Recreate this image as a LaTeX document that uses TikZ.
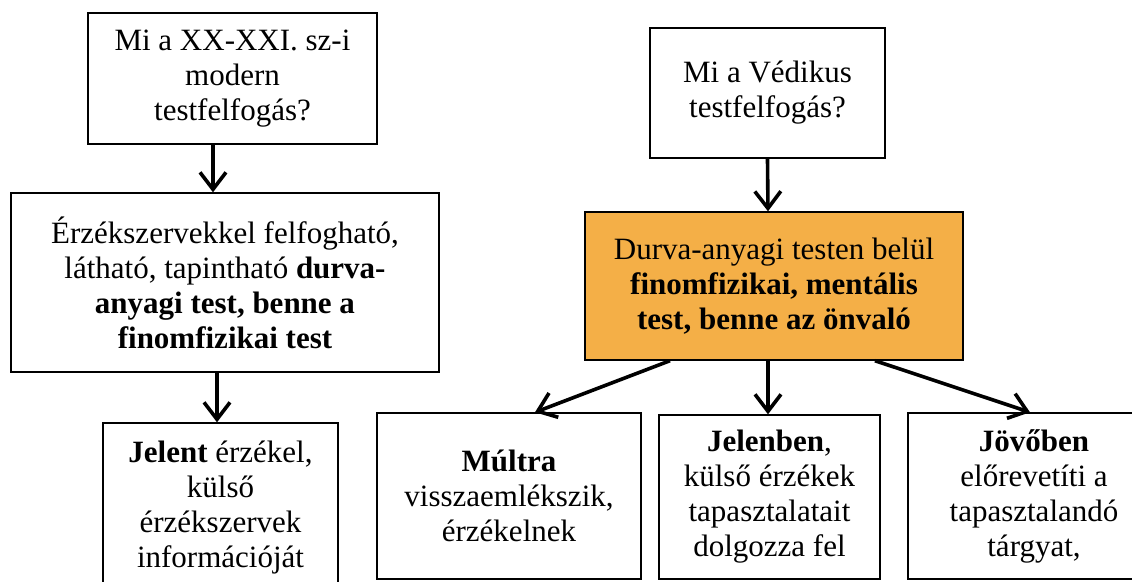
\documentclass[tikz,border=0pt]{standalone}
\usepackage{fontspec}
\setmainfont{Liberation Serif}
\usetikzlibrary{arrows.meta}
\definecolor{vedaorange}{RGB}{244,175,71}

\begin{document}
\begin{tikzpicture}[x=0.5pt, y=-0.5pt,
	box/.style={shape=rectangle, draw=black, line width=0.7pt, align=center, inner sep=0pt, font=\fontsize{15.5}{17.5}\selectfont},
	arr/.style={-{Straight Barb[length=8.5pt,width=13pt]}, line width=1.8pt}]

	\useasboundingbox (0,0) rectangle (1132,582);
	\clip (0,0) rectangle (1132,582);

	% left column
	\node[box, minimum width=144.5pt, minimum height=65.5pt] (q1) at (232.5, 78.5) {Mi a XX-XXI. sz-i\\modern\\testfelfogás?};
	\node[box, minimum width=214pt, minimum height=89.5pt] (d1) at (225, 282.5) {Érzékszervekkel felfogható,\\látható, tapintható \textbf{durva-}\\\textbf{anyagi test, benne a}\\\textbf{finomfizikai test}};
	\node[box, minimum width=117.5pt, minimum height=84.5pt] (j1) at (220.5, 507.5) {\textbf{Jelent} érzékel,\\külső\\érzékszervek\\információját};

	% right column
	\node[box, minimum width=117.5pt, minimum height=65pt] (q2) at (767.5, 93) {Mi a Védikus\\testfelfogás?};
	\node[box, fill=vedaorange, minimum width=189pt, minimum height=74pt] (v1) at (774, 286) {Durva-anyagi testen belül\\\textbf{finomfizikai, mentális}\\\textbf{test, benne az önvaló}};

	\node[box, minimum width=132pt, minimum height=83pt] (m1) at (509, 496) {\textbf{Múltra}\\visszaemlékszik,\\érzékelnek};
	\node[box, minimum width=110.5pt, minimum height=82pt] (m2) at (769.5, 497) {\textbf{Jelenben},\\külső érzékek\\tapasztalatait\\dolgozza fel};
	\node[box, minimum width=126pt, minimum height=83pt] (m3) at (1034, 496) {\textbf{Jövőben}\\előrevetíti a\\tapasztalandó\\tárgyat,};

	% arrows
	\path[arr] ([xshift=-9.75pt]q1.south) edge ([xshift=-6pt]d1.north);
	\path[arr] ([xshift=-4pt]d1.south) edge ([xshift=-1.75pt]j1.north);

	\path[arr] (q2.south) edge ([xshift=-3pt]v1.north);
	\path[arr] ([xshift=-52pt]v1.south) edge ([xshift=13pt]m1.north);
	\path[arr] ([xshift=-3pt]v1.south) edge ([xshift=-0.75pt]m2.north);
	\path[arr] ([xshift=50.5pt]v1.south) edge ([xshift=-2pt]m3.north);

\end{tikzpicture}
\end{document}
